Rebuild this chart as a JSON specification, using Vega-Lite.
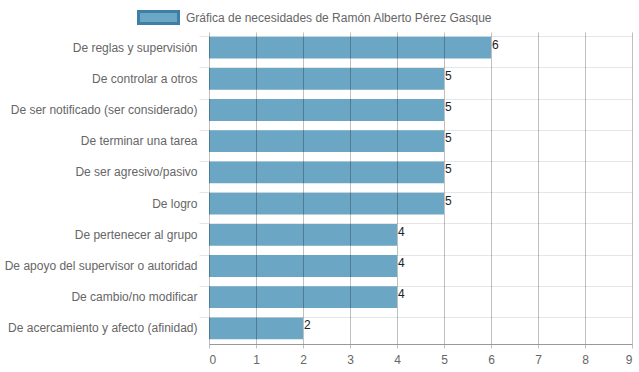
{
  "$schema": "https://vega.github.io/schema/vega-lite/v6.json",
  "width": 423,
  "height": 312,
  "autosize": {"type": "none"},
  "padding": {"left": 209, "top": 32, "right": 7, "bottom": 28},
  "background": "#ffffff",
  "config": {
    "font": "Liberation Sans",
    "view": {"stroke": null}
  },
  "data": {
    "values": [
      {"necesidad": "De reglas y supervisión", "valor": 6, "serie": "Gráfica de necesidades de Ramón Alberto Pérez Gasque"},
      {"necesidad": "De controlar a otros", "valor": 5, "serie": "Gráfica de necesidades de Ramón Alberto Pérez Gasque"},
      {"necesidad": "De ser notificado (ser considerado)", "valor": 5, "serie": "Gráfica de necesidades de Ramón Alberto Pérez Gasque"},
      {"necesidad": "De terminar una tarea", "valor": 5, "serie": "Gráfica de necesidades de Ramón Alberto Pérez Gasque"},
      {"necesidad": "De ser agresivo/pasivo", "valor": 5, "serie": "Gráfica de necesidades de Ramón Alberto Pérez Gasque"},
      {"necesidad": "De logro", "valor": 5, "serie": "Gráfica de necesidades de Ramón Alberto Pérez Gasque"},
      {"necesidad": "De pertenecer al grupo", "valor": 4, "serie": "Gráfica de necesidades de Ramón Alberto Pérez Gasque"},
      {"necesidad": "De apoyo del supervisor o autoridad", "valor": 4, "serie": "Gráfica de necesidades de Ramón Alberto Pérez Gasque"},
      {"necesidad": "De cambio/no modificar", "valor": 4, "serie": "Gráfica de necesidades de Ramón Alberto Pérez Gasque"},
      {"necesidad": "De acercamiento y afecto (afinidad)", "valor": 2, "serie": "Gráfica de necesidades de Ramón Alberto Pérez Gasque"}
    ]
  },
  "encoding": {
    "y": {
      "field": "necesidad",
      "type": "nominal",
      "sort": null,
      "scale": {"paddingInner": 0.3, "paddingOuter": 0.15},
      "axis": {
        "title": null,
        "bandPosition": 0,
        "grid": true,
        "gridColor": "#e6e6e6",
        "tickColor": "#e6e6e6",
        "tickSize": 10,
        "labelPadding": 2,
        "labelFontSize": 12,
        "labelColor": "#666666",
        "labelFont": "Liberation Sans",
        "domain": false,
        "labelLimit": 300
      }
    },
    "x": {
      "field": "valor",
      "type": "quantitative",
      "scale": {"domain": [0, 9], "nice": false},
      "axis": {
        "title": null,
        "values": [0, 1, 2, 3, 4, 5, 6, 7, 8, 9],
        "grid": true,
        "gridColor": "#000000",
        "gridOpacity": 0.25,
        "zindex": 1,
        "domain": true,
        "domainColor": "#999999",
        "tickColor": "#000000",
        "tickOpacity": 0.25,
        "tickSize": 4,
        "labelPadding": 6,
        "labelFontSize": 12,
        "labelColor": "#666666",
        "labelFont": "Liberation Sans"
      }
    }
  },
  "layer": [
    {
      "mark": {"type": "bar", "fill": "#6ba6c5"},
      "encoding": {
        "color": {
          "field": "serie",
          "type": "nominal",
          "scale": {"range": ["#6ba6c5"]},
          "legend": {
            "title": null,
            "orient": "none",
            "legendX": -72,
            "legendY": -36,
            "symbolType": "M-1,-0.3H1V0.3H-1Z",
            "symbolSize": 1600,
            "symbolFillColor": "#6ba6c5",
            "symbolStrokeColor": "#3d7fa6",
            "symbolStrokeWidth": 3,
            "symbolOpacity": 1,
            "labelFontSize": 12,
            "labelColor": "#666666",
            "labelFont": "Liberation Sans",
            "labelOffset": 6,
            "padding": 0,
            "labelLimit": 400
          }
        }
      }
    },
    {
      "mark": {"type": "text", "align": "left", "baseline": "middle", "dx": 1, "dy": -3, "fontSize": 12, "color": "#222222", "font": "Liberation Sans"},
      "encoding": {
        "text": {"field": "valor", "type": "quantitative"}
      }
    }
  ]
}
